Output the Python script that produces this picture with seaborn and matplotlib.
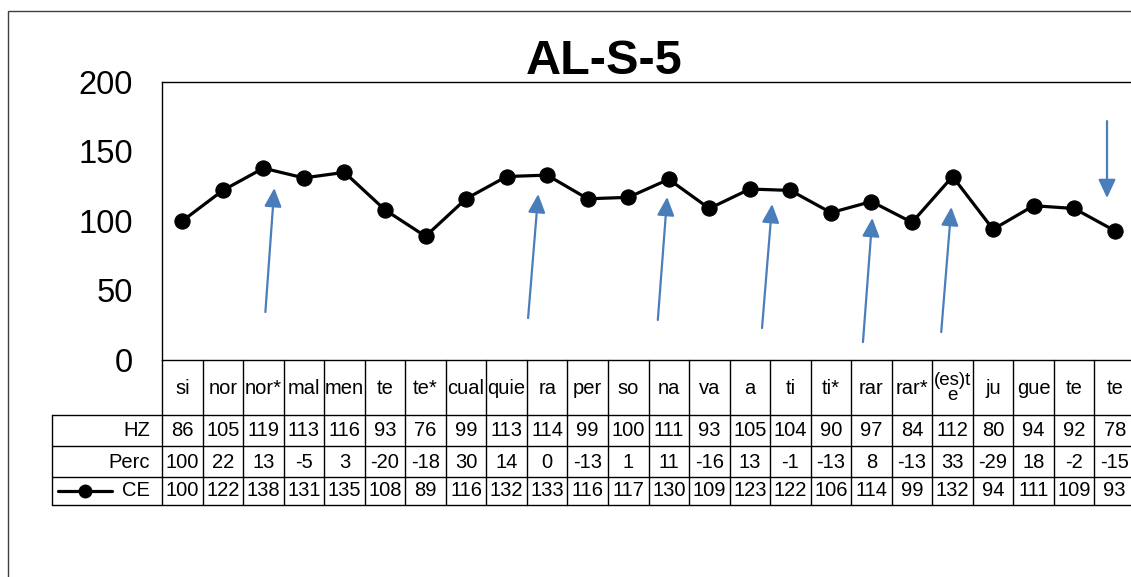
import numpy as np
import pandas as pd
import matplotlib
matplotlib.use('Agg')
import matplotlib.pyplot as plt
import seaborn as sns
from matplotlib.lines import Line2D
from matplotlib.patches import Rectangle
import matplotlib.transforms as mtransforms

# Data
syllables = ['si', 'nor', 'nor*', 'mal', 'men', 'te', 'te*', 'cual', 'quie', 'ra',
             'per', 'so', 'na', 'va', 'a', 'ti', 'ti*', 'rar', 'rar*', '(es)t\ne',
             'ju', 'gue', 'te', 'te']
hz = [86, 105, 119, 113, 116, 93, 76, 99, 113, 114, 99, 100, 111, 93, 105, 104,
      90, 97, 84, 112, 80, 94, 92, 78]
perc = [100, 22, 13, -5, 3, -20, -18, 30, 14, 0, -13, 1, 11, -16, 13, -1, -13,
        8, -13, 33, -29, 18, -2, -15]
ce = [100, 122, 138, 131, 135, 108, 89, 116, 132, 133, 116, 117, 130, 109, 123,
      122, 106, 114, 99, 132, 94, 111, 109, 93]

# arrows drawn on the chart: (tail x, tail y) -> (head x, head y), in data units
arrow_tails = [(2.05, 34.5), (8.53, 30.2), (11.73, 28.8), (14.30, 23.0),
               (16.79, 12.9), (18.72, 20.1), (22.81, 171.9)]
arrow_heads = [(2.27, 123.7), (8.78, 119.4), (11.96, 117.3), (14.55, 112.2),
               (17.02, 102.2), (18.97, 110.1), (22.81, 116.5)]

sns.set_theme(style='white')
plt.rcParams['font.family'] = ['Liberation Sans', 'DejaVu Sans']
plt.rcParams['text.color'] = 'black'

W, H = 1131, 577
fig = plt.figure(figsize=(W / 100, H / 100), dpi=100)

def fx(px):
    return px / W

def fy(py):
    return 1 - py / H

# plot area (extends slightly past the right edge, like the original)
ax = fig.add_axes([fx(162), fy(360), fx(1135) - fx(162), fy(82) - fy(360)])
df = pd.DataFrame({'idx': np.arange(len(ce)), 'CE': ce})
sns.lineplot(data=df, x='idx', y='CE', ax=ax, color='black', linewidth=2.3,
             marker='o', markersize=11, markeredgecolor='black')
ax.set_xlim(-0.5, len(ce) - 0.5)
ax.set_ylim(0, 200)
ax.set_yticks([0, 50, 100, 150, 200])
ax.set_xticks([])
ax.set_xlabel('')
ax.set_ylabel('')
ax.tick_params(axis='y', labelsize=23.5, length=0, pad=21, labelcolor='black')
for s in ['top', 'left', 'bottom']:
    ax.spines[s].set_color('black')
    ax.spines[s].set_linewidth(1.0)
ax.spines['right'].set_visible(False)

for (tx, ty), (hx, hy) in zip(arrow_tails, arrow_heads):
    ax.annotate('', xy=(hx, hy), xytext=(tx, ty),
                arrowprops=dict(arrowstyle='-|>,head_length=0.75,head_width=0.35',
                                color='#4a7ebb', lw=1.6, mutation_scale=15,
                                shrinkA=0, shrinkB=0))

# title
fig.text(fx(604), fy(62), 'AL-S-5', ha='center', va='center',
         fontsize=35, fontweight='bold', color='black')

# data table under the plot: x in data units, y in figure fraction
trans = mtransforms.blended_transform_factory(ax.transData, fig.transFigure)
n = len(ce)
lc = 'black'
fs = 14.5
# vertical cell borders
for i in range(n + 1):
    ax.add_line(Line2D([i - 0.5, i - 0.5], [fy(360), fy(505)], transform=trans,
                       color=lc, lw=1.0, clip_on=False))
# horizontal borders for the value rows
for py in [415, 446, 477, 505]:
    fig.add_artist(Line2D([fx(52), fx(1135)], [fy(py), fy(py)], color=lc, lw=1.0))
fig.add_artist(Line2D([fx(52), fx(52)], [fy(415), fy(505)], color=lc, lw=1.0))

rows = [('HZ', hz, 430), ('Perc', perc, 462), ('CE', ce, 491)]
for i, lab in enumerate(syllables):
    ax.text(i, fy(388), lab, transform=trans, ha='center', va='center',
            fontsize=fs if '\n' not in lab else 13.5, linespacing=0.85,
            clip_on=False, color='black')
for name, vals, py in rows:
    fig.text(fx(150), fy(py), name, ha='right', va='center', fontsize=fs,
             color='black')
    for i, v in enumerate(vals):
        ax.text(i, fy(py), str(v), transform=trans, ha='center', va='center',
                fontsize=fs, clip_on=False, color='black')

# legend key in the CE row
fig.add_artist(Line2D([fx(58), fx(112)], [fy(491), fy(491)], color='black', lw=2.3))
fig.add_artist(Line2D([fx(85)], [fy(491)], color='black', marker='o', markersize=9,
                      linestyle='none'))

# outer chart border
fig.add_artist(Rectangle((fx(8), fy(600)), fx(1200), fy(11) - fy(600),
                         transform=fig.transFigure, fill=False,
                         edgecolor='#404040', lw=1.0))

plt.savefig('out.png', dpi=100)
plt.close()
